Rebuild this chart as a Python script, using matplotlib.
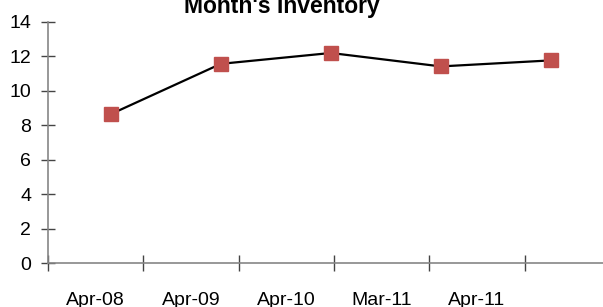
import numpy as np
import matplotlib.pyplot as plt

plt.rcParams['font.family'] = ['Liberation Sans', 'DejaVu Sans']

categories = ["Apr-08", "Apr-09", "Apr-10", "Mar-11", "Apr-11"]
inventory = [8.65, 11.57, 12.2, 11.42, 11.77]

fig = plt.figure(figsize=(6.03, 3.07), dpi=100)
ax = fig.add_axes([48/603, 44/307, 1 - 48/603, 241/307])

# series is drawn offset from the category slots, as in the original
step = 1.154
offset = 0.66
xs = np.arange(len(inventory)) * step + offset
ax.plot(xs, inventory, color="black", lw=1.6, zorder=2)
ax.plot(xs, inventory, ls="none", marker="s", ms=10.5, color="#C0504D",
        mec="#C0504D", zorder=3)

ax.set_xlim(0, 555/95.3)
ax.set_ylim(0, 14)
ax.set_yticks(np.arange(0, 15, 2))
ax.set_xticks(np.arange(len(categories) + 1))
ax.set_xticklabels([])
ax.set_xticks(np.arange(len(categories)) + 0.5, minor=True)
ax.set_xticklabels(categories, minor=True)

for s in ["top", "right"]:
    ax.spines[s].set_visible(False)
for s in ["left", "bottom"]:
    ax.spines[s].set_color("#868686")
    ax.spines[s].set_linewidth(1.2)

ax.tick_params(axis="y", direction="inout", length=10, width=1, color="#444444",
               labelsize=14, pad=7)
ax.tick_params(axis="x", which="major", direction="inout", length=12, width=1,
               color="#444444")
ax.tick_params(axis="x", which="minor", length=0, labelsize=14, pad=21)

fig.text(282/603, 1 - 13/307, "Month's Inventory", ha="center", va="baseline",
         fontsize=16.5, fontweight="bold")

fig.savefig("out.png", dpi=100)
